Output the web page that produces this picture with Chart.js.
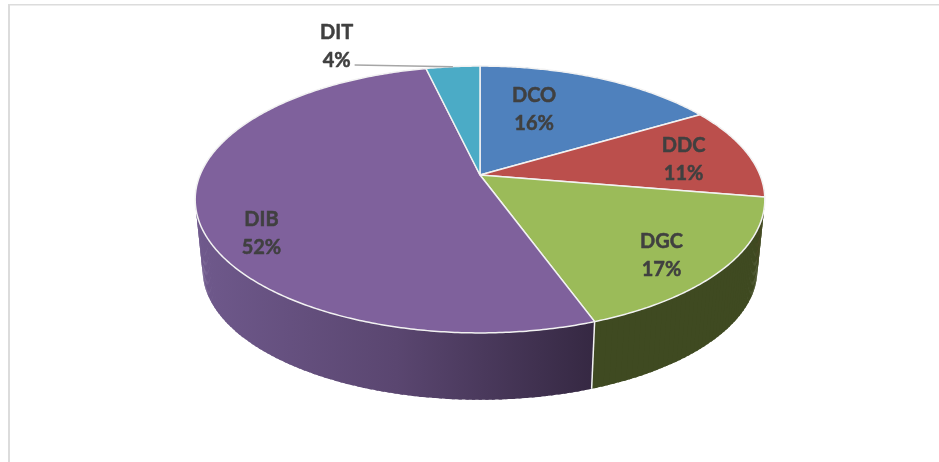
<!DOCTYPE html>
<html>
<head>
<meta charset="utf-8">
<style>
html,body{margin:0;padding:0;background:#fff;}
#wrap{position:relative;width:939px;height:462px;}
canvas{display:block;}
</style>
<script src="https://cdn.jsdelivr.net/npm/chart.js@4"></script>
</head>
<body>
<div id="wrap"><canvas id="c" width="939" height="462"></canvas></div>
<script>
const categories = ['DCO', 'DDC', 'DGC', 'DIB', 'DIT'];
const shares = [16.45, 11.2, 16.85, 51.85, 3.65];
const colors = ['#4f81bd', '#bb4f4c', '#9bbb59', '#7f619c', '#4babc6'];

// Where the two-line data labels sit, as fractions of the pie radius from its centre
const labelAnchors = [[0.311, -0.378], [1.17, -0.09], [1.043, 0.463], [-1.256, 0.337], [-0.824, -0.741]];

// Perspective of the tilted disc, as fractions of the pie radius
const VIEW = {a: 1.609, b: 0.741, k: 0.1835, drop: 0.408, shrink: 0.974};

function project(arc, angle, scale, dy) {
  const t = angle + Math.PI / 2;
  const x = Math.sin(t), y = Math.cos(t), w = 1 + VIEW.k * y;
  const R = arc.outerRadius;
  return [arc.x + scale * VIEW.a * R * x / w, arc.y + dy - scale * VIEW.b * R * y / w];
}
function rim(ctx, arc, from, to, scale, dy, first) {
  const n = Math.max(2, Math.ceil(Math.abs(to - from) / 0.01));
  for (let i = 0; i <= n; i++) {
    const p = project(arc, from + (to - from) * i / n, scale, dy);
    if (i === 0 && first) ctx.moveTo(p[0], p[1]); else ctx.lineTo(p[0], p[1]);
  }
}

const pie3d = {
  id: 'pie3d',
  beforeDatasetDraw() { return false; },
  beforeDraw(chart) {
    const ctx = chart.ctx;
    ctx.save();
    ctx.fillStyle = '#ffffff';
    ctx.fillRect(0, 0, chart.width, chart.height);
    ctx.fillStyle = '#dcdcdc';
    ctx.fillRect(8, 4, chart.width - 8, 1.5);
    ctx.fillRect(8, 4, 2, chart.height - 4);
    ctx.restore();
  },
  afterDatasetsDraw(chart) {
    const ctx = chart.ctx;
    const arcs = chart.getDatasetMeta(0).data;
    const R = arcs[0].outerRadius, cx = arcs[0].x, cy = arcs[0].y;
    const drop = VIEW.drop * R;
    ctx.save();

    // side walls, as overlapping strips so the fold at the silhouette stays filled
    const dibWall = ctx.createLinearGradient(cx - 1.63 * R, 0, cx + 0.67 * R, 0);
    dibWall.addColorStop(0, '#6f598c');
    dibWall.addColorStop(0.5, '#5a4670');
    dibWall.addColorStop(1, '#352842');
    const wallFill = [colors[0], '#9a3f3c', '#3f4a21', dibWall, colors[4]];
    [4, 0, 1, 3, 2].forEach(i => {
      const arc = arcs[i];
      const steps = Math.ceil((arc.endAngle - arc.startAngle) / 0.02);
      ctx.fillStyle = wallFill[i];
      for (let s = 0; s < steps; s++) {
        const from = arc.startAngle + (arc.endAngle - arc.startAngle) * s / steps;
        const to = Math.min(arc.endAngle, from + (arc.endAngle - arc.startAngle) * 1.5 / steps);
        ctx.beginPath();
        rim(ctx, arc, from, to, 1, 0, true);
        rim(ctx, arc, to, from, VIEW.shrink, drop, false);
        ctx.closePath();
        ctx.fill();
      }
    });
    // white seam where two front walls meet
    const seamArc = arcs[2];
    const seamTop = project(seamArc, seamArc.endAngle, 1, 0);
    const seamBottom = project(seamArc, seamArc.endAngle, VIEW.shrink, drop);
    ctx.beginPath();
    ctx.moveTo(seamTop[0], seamTop[1]);
    ctx.lineTo(seamBottom[0], seamBottom[1]);
    ctx.strokeStyle = '#f2f2f2';
    ctx.lineWidth = 1.5;
    ctx.stroke();

    // top face
    arcs.forEach((arc, i) => {
      ctx.beginPath();
      ctx.moveTo(arc.x, arc.y);
      rim(ctx, arc, arc.startAngle, arc.endAngle, 1, 0, false);
      ctx.closePath();
      ctx.fillStyle = colors[i];
      ctx.fill();
      ctx.strokeStyle = '#f2f2f2';
      ctx.lineWidth = 1.5;
      ctx.lineJoin = 'round';
      ctx.stroke();
    });

    // leader line of the last label
    const last = arcs.length - 1;
    const tip = project(arcs[last], (arcs[last].startAngle + arcs[last].endAngle) / 2, 1, 0);
    ctx.beginPath();
    ctx.moveTo(cx + labelAnchors[last][0] * R + 18, cy + labelAnchors[last][1] * R + 19);
    ctx.lineTo(tip[0], tip[1]);
    ctx.strokeStyle = '#a6a6a6';
    ctx.lineWidth = 1.5;
    ctx.stroke();

    // data labels
    ctx.fillStyle = '#404040';
    ctx.strokeStyle = '#404040';
    ctx.lineWidth = 0.5;
    ctx.lineJoin = 'round';
    ctx.font = 'bold 20px Lato, "Open Sans", sans-serif';
    ctx.textAlign = 'center';
    ctx.textBaseline = 'middle';
    categories.forEach((name, i) => {
      const lx = cx + labelAnchors[i][0] * R, ly = cy + labelAnchors[i][1] * R;
      const pct = Math.round(shares[i]) + '%';
      ctx.fillText(name, lx, ly - 14);
      ctx.strokeText(name, lx, ly - 14);
      ctx.fillText(pct, lx, ly + 14);
      ctx.strokeText(pct, lx, ly + 14);
    });
    ctx.restore();
  }
};

new Chart(document.getElementById('c'), {
  type: 'pie',
  data: {
    labels: categories,
    datasets: [{data: shares, backgroundColor: colors}]
  },
  options: {
    responsive: false,
    animation: false,
    layout: {padding: {left: 21, bottom: 112}},
    plugins: {legend: {display: false}, tooltip: {enabled: false}}
  },
  plugins: [pie3d]
});
</script>
</body>
</html>
